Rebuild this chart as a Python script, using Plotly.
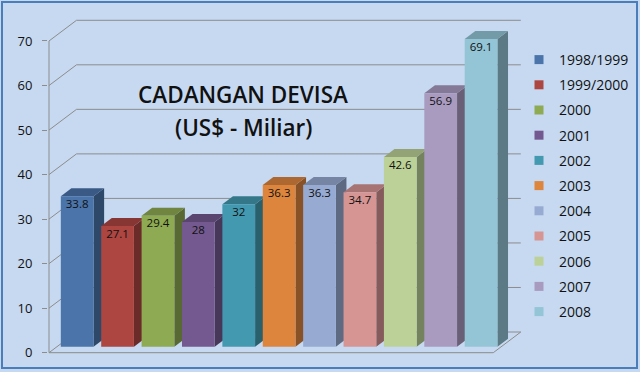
import plotly.graph_objects as go

# ---------------- data ----------------
categories = ["1998/1999", "1999/2000", "2000", "2001", "2002", "2003",
              "2004", "2005", "2006", "2007", "2008"]
values = [33.8, 27.1, 29.4, 28, 32, 36.3, 36.3, 34.7, 42.6, 56.9, 69.1]
value_labels = ["33.8", "27.1", "29.4", "28", "32", "36.3",
                "36.3", "34.7", "42.6", "56.9", "69.1"]
front_colors = ["#4A74AA", "#AD4541", "#8EAA52", "#73598F", "#4399AF", "#DD853D",
                "#97AAD2", "#D69593", "#BCD197", "#A99BC0", "#94C5D6"]
y_ticks = [0, 10, 20, 30, 40, 50, 60, 70]

# ---------------- geometry / style ----------------
W, H = 640, 372
ML, MR, MT, MB = 48, 4, 4, 8
X0_PX, Y0_PX = 49.0, 352.7          # pixel of data origin (front plane)
PX_PER_CAT, PX_PER_UNIT = 40.39, 4.453
DX = 27.5 / PX_PER_CAT               # full depth, in x data units
DY = 20.7 / PX_PER_UNIT              # full depth, in y data units
T0, T1 = 0.29, 0.675                 # bar depth span (fraction of full depth)
BAR_W = 0.81
LABEL_DROP = 1.95
BG = "#C6D9F1"
GRID = "#8C8C8C"
FONT = "Open Sans"

x_range = [(ML - X0_PX) / PX_PER_CAT, (W - MR - X0_PX) / PX_PER_CAT]
y_range = [-(H - MB - Y0_PX) / PX_PER_UNIT, (Y0_PX - MT) / PX_PER_UNIT]


def shade(hexcol, f):
    h = hexcol.lstrip("#")
    r, g, b = (int(h[i:i + 2], 16) for i in (0, 2, 4))
    return "rgb(%d,%d,%d)" % (round(r * f), round(g * f), round(b * f))


n = len(categories)
fig = go.Figure()

# walls: gridlines on side wall + back wall, floor outline, front axis line
gx, gy = [], []
for v in y_ticks[1:]:
    gx += [0, DX, n + DX, None]
    gy += [v, v + DY, v + DY, None]
gx += [0, n, n + DX, DX, 0, None, 0, 0]
gy += [0, 0, DY, DY, 0, None, 0, y_ticks[-1]]
fig.add_trace(go.Scatter(x=gx, y=gy, mode="lines", line=dict(color=GRID, width=1),
                         showlegend=False, hoverinfo="skip"))

# 3D columns (painter order, left to right)
dxb, dyb = (T1 - T0) * DX, (T1 - T0) * DY
base = T0 * DY
lx, ly = [], []
for i, (v, c) in enumerate(zip(values, front_colors)):
    xc = i + 0.5 + T0 * DX
    xl, xr = xc - BAR_W / 2, xc + BAR_W / 2
    top = base + v
    # side face
    fig.add_trace(go.Scatter(
        x=[xr, xr + dxb, xr + dxb, xr, xr], y=[base, base + dyb, top + dyb, top, base],
        mode="lines", fill="toself", fillcolor=shade(c, 0.62), line=dict(width=0),
        showlegend=False, hoverinfo="skip"))
    # top face
    fig.add_trace(go.Scatter(
        x=[xl, xr, xr + dxb, xl + dxb, xl], y=[top, top, top + dyb, top + dyb, top],
        mode="lines", fill="toself", fillcolor=shade(c, 0.78), line=dict(width=0),
        showlegend=False, hoverinfo="skip"))
    # front face
    fig.add_trace(go.Scatter(
        x=[xl, xr, xr, xl, xl], y=[base, base, top, top, base],
        mode="lines", fill="toself", fillcolor=c, line=dict(width=0),
        showlegend=False, hoverinfo="skip"))
    lx.append(xc)
    ly.append(top - LABEL_DROP)

# value labels
fig.add_trace(go.Scatter(x=lx, y=ly, mode="text", text=value_labels,
                         textposition="middle center", cliponaxis=False,
                         textfont=dict(family=FONT, size=11.5, color="#111111"),
                         showlegend=False, hoverinfo="skip"))

# legend entries
for cat, c in zip(categories, front_colors):
    fig.add_trace(go.Scatter(x=[None], y=[None], mode="markers", name=cat,
                             legendgroup=cat,
                             marker=dict(symbol="square", size=9, color=c,
                                         line=dict(width=0))))

px2paper_x = lambda px: (px - ML) / (W - ML - MR)
px2paper_y = lambda py: 1 - (py - MT) / (H - MT - MB)

fig.update_layout(
    width=W, height=H,
    margin=dict(l=ML, r=MR, t=MT, b=MB, pad=0, autoexpand=False),
    paper_bgcolor=BG, plot_bgcolor="rgba(0,0,0,0)",
    hovermode=False,
    font=dict(family=FONT, color="#111111"),
    xaxis=dict(range=x_range, visible=False, fixedrange=True),
    yaxis=dict(range=y_range, tickvals=y_ticks, ticks="outside", ticklen=5,
               tickcolor=GRID, tickwidth=1, showgrid=False, zeroline=False,
               showline=False, ticklabelstandoff=7,
               tickfont=dict(family=FONT, size=13, color="#111111"),
               fixedrange=True),
    legend=dict(x=px2paper_x(519), xanchor="left", y=px2paper_y(44), yanchor="top",
                traceorder="grouped", tracegroupgap=4, bgcolor="rgba(0,0,0,0)",
                font=dict(family=FONT, size=14, color="#111111"),
                itemclick=False, itemdoubleclick=False),
    annotations=[
        dict(text="CADANGAN DEVISA", x=px2paper_x(243), y=px2paper_y(94),
             xref="paper", yref="paper", showarrow=False, xanchor="center", yanchor="middle",
             font=dict(family=FONT, size=22.5, color="#111111", weight=600)),
        dict(text="(US$ - Miliar)", x=px2paper_x(243), y=px2paper_y(127),
             xref="paper", yref="paper", showarrow=False, xanchor="center", yanchor="middle",
             font=dict(family=FONT, size=22.5, color="#111111", weight=600)),
    ],
    shapes=[dict(type="rect", xref="paper", yref="paper",
                 x0=px2paper_x(2), x1=px2paper_x(637), y0=px2paper_y(368), y1=px2paper_y(2),
                 line=dict(color="#4A7EBB", width=2), fillcolor="rgba(0,0,0,0)",
                 layer="below")],
)

fig.write_html(
    "out.html",
    config={"displayModeBar": False, "staticPlot": True},
    post_script="document.body.style.margin='0px';"
                "document.body.style.background='%s';" % BG,
)
